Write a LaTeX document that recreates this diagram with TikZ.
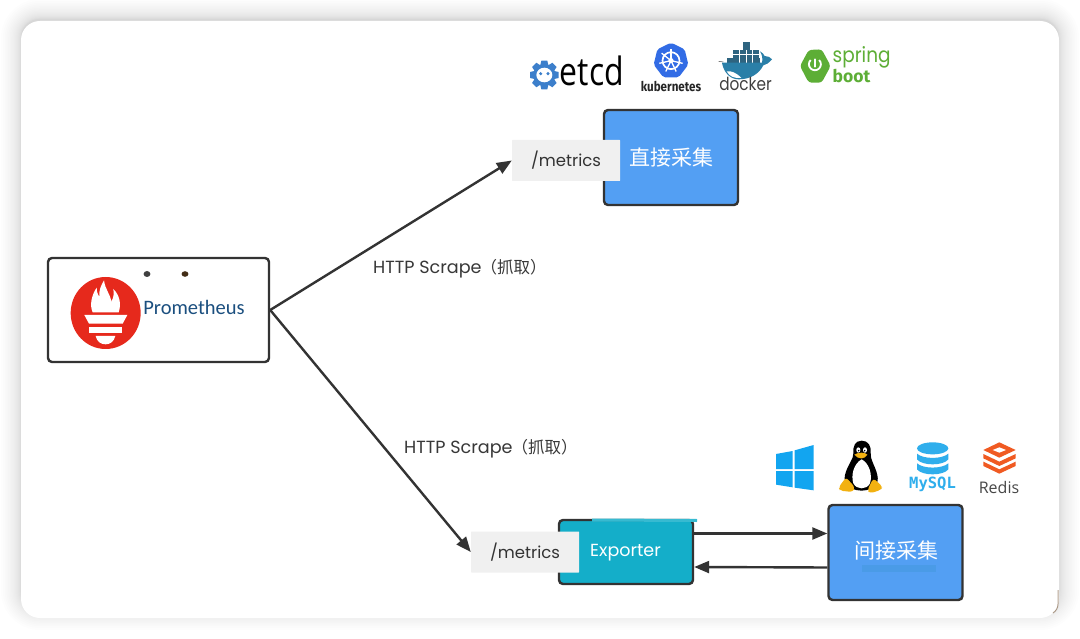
\documentclass[tikz,border=0pt]{standalone}
\usepackage{fontspec}
\usepackage{graphicx}
\usetikzlibrary{arrows.meta,calc,shapes.geometric}
\setmainfont{Poppins}
\newfontfamily\cjk{Noto Sans CJK SC}
\newfontfamily\carl{Carlito}
\newfontfamily\opensans{Open Sans}
\newfontfamily\fira{Fira Sans}
\newfontfamily\djmono{DejaVu Sans Mono}
\definecolor{edge}{HTML}{333333}
\definecolor{boxblue}{HTML}{539FF3}
\definecolor{boxteal}{HTML}{14AEC9}
\definecolor{chip}{HTML}{F0F0F0}
\definecolor{promred}{HTML}{E6291C}
\definecolor{promblue}{HTML}{1B4F7F}
\definecolor{etcdblue}{HTML}{3C7FCB}
\definecolor{k8sblue}{HTML}{326CE5}
\definecolor{dockblue}{HTML}{2A7FA8}
\definecolor{dockdark}{HTML}{2E6480}
\definecolor{springgreen}{HTML}{5DAE36}
\definecolor{winblue}{HTML}{12A5F0}
\definecolor{sqlblue}{HTML}{2FAEEC}
\definecolor{redisor}{HTML}{F05A22}
\definecolor{tuxyellow}{HTML}{F2B111}
\tikzset{
  panel/.style={draw=edge,line width=2.4pt,rounded corners=4pt,inner sep=0pt},
  collect/.style={panel,fill=boxblue,minimum width=134pt,minimum height=95pt,text=white,font=\cjk\fontsize{21}{21}\selectfont},
  chipbox/.style={fill=chip,minimum width=108pt,minimum height=41pt,inner sep=0pt,text=black!80,font=\fontsize{16.5}{18}\selectfont,rounded corners=0.5pt},
  link/.style={draw=edge,line width=2.4pt,-{Triangle[length=15pt,width=12pt]}},
  lbl/.style={text=black!78,font=\fontsize{17.6}{18}\selectfont,anchor=west,inner sep=0pt},
  zoomed/.style={x=0.33333pt,y=-0.33333pt},
}
\newcommand{\scrapetext}{HTTP Scrape\hspace{-1pt}{\cjk\fontsize{16.5}{18}\selectfont（抓取）}}
\begin{document}
\begin{tikzpicture}[x=1pt,y=-1pt]
\useasboundingbox (0,0) rectangle (1080,639);
\fill[white] (0,0) rectangle (1080,639);
% card with soft shadow
\foreach \i in {20,...,1}{
  \pgfmathsetmacro{\ext}{\i*\i/20}
  \pgfmathsetmacro{\rad}{19+\ext}
  \fill[black,opacity=0.009,rounded corners=\rad pt] ({21-\ext},{19-\ext}) rectangle ({1059+\ext},{610+\ext});
}
\fill[white,rounded corners=19pt] (21,21) rectangle (1059,618);
\draw[black!45!brown,opacity=0.5,line width=1pt] (1058,590) -- (1058,604) .. controls (1058,608) and (1056,611) .. (1053,613);

% Prometheus box
\node[panel,fill=white,minimum width=221pt,minimum height=104pt] (prom) at (158.5,310) {};
\fill[black!75] (147,274) ellipse (3.4pt and 3pt);
\fill[black!65!brown] (185,274) ellipse (3.4pt and 2.8pt);
\begin{scope}[shift={(30,245)},zoomed]
  \fill[promred] (227,204) ellipse (35pt and 36pt);
  \fill[white] (222,106) .. controls (226,135) and (240,145) .. (244,170) .. controls (252,155) and (252,145) .. (250,132)
     .. controls (268,150) and (275,175) .. (266,202) -- (188,202) .. controls (178,180) and (185,150) .. (200,128)
     .. controls (200,140) and (204,150) .. (208,155) .. controls (206,135) and (214,120) .. (222,106) -- cycle;
  \fill[white] (163,210) -- (292,210) -- (278,236) -- (177,236) -- cycle;
  \fill[white] (178,246) rectangle (277,263);
  \fill[white] (197,273) -- (256,273) .. controls (252,290) and (240,298) .. (227,298) .. controls (212,298) and (201,290) .. (197,273) -- cycle;
\end{scope}
\node[inner sep=0pt,text=promblue,font=\carl\fontsize{20.5}{21}\selectfont] (promname) at (194,307) {Prometheus};

% upper target
\node[collect] (direct) at (671,157.5) {直接采集};
\node[chipbox] (metricsa) at (566,160.5) {/metrics};

% lower targets
\node[panel,fill=boxteal,minimum width=134pt,minimum height=64pt] (exporter) at (626,552) {};
\draw[boxteal!85!white,line width=3pt] (592,520) -- (697,520.5);
\node[inner sep=0pt,text=white,font=\fontsize{17.5}{18}\selectfont] (exportname) at (625.5,553) {Exporter};
\node[chipbox] (metricsb) at (525,552) {/metrics};
\node[collect] (indirect) at (895.5,552.5) {};
\fill[teal!45!boxblue,opacity=0.22] (862,565) rectangle (936,572);
\node[inner sep=0pt,text=white,font=\cjk\fontsize{21}{21}\selectfont] (indirectname) at (896,551) {间接采集};

% connectors
\draw[link] (prom.east) -- (metricsa.west);
\draw[link] (prom.east) -- (metricsb.west);
\draw[link] ([yshift=18.5pt]exporter.east) -- ([yshift=19pt]indirect.west);
\draw[link] ([yshift=-15pt]indirect.west) -- ([yshift=-15pt]exporter.east);

\node[lbl] (scrapea) at (373,268.5) {\scrapetext};
\node[lbl] (scrapeb) at (404,449) {\scrapetext};

% etcd
\begin{scope}[shift={(525,40)},zoomed]
  \fill[etcdblue] (58,105) circle (11pt);
  \foreach \a in {0,45,...,315}{
    \fill[etcdblue,rotate around={\a:(58,105)}] (49,62) -- (67,62) -- (71,80) -- (45,80) -- cycle;
  }
  \fill[white] (58,105) ellipse (8pt and 7.3pt);
  \fill[etcdblue] (47,101) circle (1.7pt);
  \fill[etcdblue] (69,101) circle (1.7pt);
\end{scope}
\node[inner sep=0pt,text=black,font=\opensans\fontsize{39}{39}\selectfont] (etcdname) at (592,70.5) {\scalebox{0.82}[1]{etcd}};

% kubernetes
\begin{scope}[shift={(636,38)},zoomed]
  \fill[k8sblue,rounded corners=2pt] (105,14) -- (146,34) -- (157,80) -- (128,118) -- (82,118) -- (53,80) -- (64,34) -- cycle;
  \draw[white,line width=1.7pt] (105,68) circle (8.5pt);
  \foreach \a in {0,51.4,...,308}{
    \draw[white,line width=1.3pt,rotate around={\a:(105,68)}] (105,68) -- (105,32);
  }
  \fill[white] (105,68) circle (2.6pt);
\end{scope}
\node[inner sep=0pt,text=black!85,font=\fira\bfseries\fontsize{13.5}{14}\selectfont] (k8sname) at (671,86) {\scalebox{0.86}[1]{kubernetes}};

% docker
\begin{scope}[shift={(636,38)},zoomed]
  \fill[dockdark] (322,12) rectangle (342,36);
  \fill[dockdark] (292,36) rectangle (368,62);
  \fill[dockdark] (272,60) rectangle (372,76);
  \draw[white,line width=0.35pt] (292,49) -- (368,49) (310,36) -- (310,76) (330,36) -- (330,76) (350,36) -- (350,76);
  \fill[dockblue] (258,74) -- (378,74) .. controls (382,62) and (376,46) .. (372,40) .. controls (378,44) and (384,48) .. (386,54)
    .. controls (396,54) and (404,58) .. (408,64) .. controls (398,76) and (390,80) .. (382,82)
    .. controls (368,110) and (340,124) .. (308,124) .. controls (280,124) and (262,100) .. (258,74) -- cycle;
  \fill[white] (272,100) .. controls (285,98) and (300,103) .. (316,120) .. controls (295,122) and (280,115) .. (272,100) -- cycle;
  \draw[black!70,line width=0.5pt] (248,70) -- (262,72);
\end{scope}
\node[inner sep=0pt,text=black!75,font=\fontsize{18}{18}\selectfont] (dockername) at (745.5,84) {\scalebox{0.85}[1]{docker}};

% spring boot
\begin{scope}[shift={(520,30)},zoomed]
  \fill[springgreen,rounded corners=3pt] (840,108) -- (866,60) -- (905,58) -- (932,108) -- (905,158) -- (866,158) -- cycle;
  \draw[white,line width=1.8pt,line cap=round] (885,88) -- (885,110);
  \draw[white,line width=1.8pt] (872,90) arc[start angle=135,end angle=405,radius=6pt];
\end{scope}
\node[inner sep=0pt,text=springgreen,font=\fontsize{21}{21}\selectfont,anchor=base west] (springname) at (832.5,62.5) {\scalebox{0.88}[1]{spring}};
\node[inner sep=0pt,text=springgreen,font=\fira\bfseries\fontsize{17.5}{18}\selectfont,anchor=base west] (bootname) at (832.5,83) {boot};

% windows
\begin{scope}[shift={(760,430)},zoomed]
  \fill[winblue] (48,72) -- (98,63) -- (98,117) -- (48,117) -- cycle;
  \fill[winblue] (104,61) -- (161,45) -- (161,117) -- (104,117) -- cycle;
  \fill[winblue] (48,123) -- (98,123) -- (98,172) -- (48,164) -- cycle;
  \fill[winblue] (104,123) -- (161,123) -- (161,181) -- (104,173) -- cycle;

  % tux
  \fill[black] (305,32) .. controls (285,32) and (278,50) .. (280,70) .. controls (282,85) and (262,105) .. (255,135)
     .. controls (250,160) and (262,180) .. (305,182) .. controls (345,180) and (358,160) .. (352,135)
     .. controls (345,105) and (330,90) .. (332,68) .. controls (334,48) and (325,32) .. (305,32) -- cycle;
  \fill[white] (305,88) .. controls (282,100) and (272,135) .. (280,160) .. controls (290,180) and (320,180) .. (330,160)
     .. controls (338,135) and (328,100) .. (305,88) -- cycle;
  \fill[white] (295,60) ellipse (2pt and 2.7pt);
  \fill[white] (315,60) ellipse (2pt and 2.7pt);
  \fill[black] (296,62) circle (0.9pt);
  \fill[black] (314,62) circle (0.9pt);
  \fill[tuxyellow] (283,74) .. controls (295,66) and (315,66) .. (322,74) .. controls (315,88) and (295,90) .. (283,74) -- cycle;
  \fill[tuxyellow,rounded corners=3pt] (258,142) -- (285,172) -- (278,186) -- (240,182) -- (236,172) -- cycle;
  \fill[tuxyellow,rounded corners=3pt] (340,145) -- (368,170) -- (362,180) -- (330,190) -- (322,180) -- cycle;

  % mysql
  \fill[sqlblue] (518,55) ellipse (15.7pt and 6pt);
  \fill[sqlblue] (471,71) .. controls (490,88) and (546,88) .. (565,71) -- (565,88) .. controls (550,108) and (486,108) .. (471,88) -- cycle;
  \fill[sqlblue] (471,100) .. controls (490,117) and (546,117) .. (565,100) -- (565,118) .. controls (550,138) and (486,138) .. (471,118) -- cycle;

  % redis
  \fill[redisor] (718,37) -- (767,60) -- (718,83) -- (670,60) -- cycle;
  \fill[white] (718,52) -- (738,60) -- (718,68) -- (698,60) -- cycle;
  \fill[redisor] (670,72) -- (718,95) -- (767,72) -- (767,85) -- (718,108) -- (670,85) -- cycle;
  \fill[redisor] (670,95) -- (718,118) -- (767,95) -- (767,108) -- (718,131) -- (670,108) -- cycle;
\end{scope}
\node[inner sep=0pt,text=sqlblue,font=\djmono\bfseries\fontsize{15.5}{16}\selectfont] (mysqlname) at (932.5,484) {MySQL};
\node[inner sep=0pt,text=black!72,font=\opensans\fontsize{16}{16}\selectfont] (redisname) at (999,487) {Redis};
\end{tikzpicture}
\end{document}
